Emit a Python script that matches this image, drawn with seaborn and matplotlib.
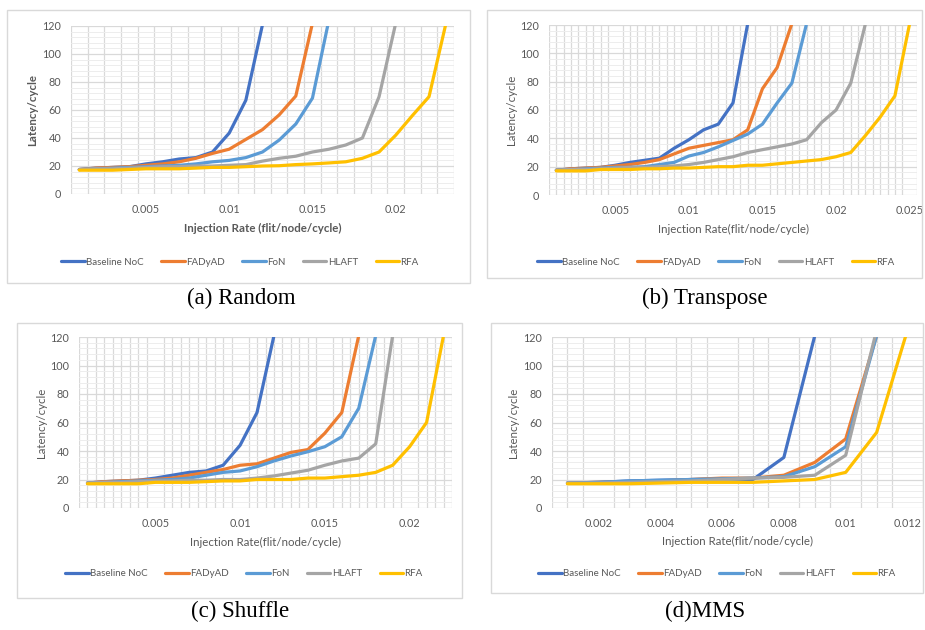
import numpy as np
import pandas as pd
import seaborn as sns
import matplotlib
matplotlib.use("Agg")
import matplotlib.pyplot as plt
from matplotlib.patches import Rectangle
from matplotlib.ticker import MultipleLocator, FixedLocator

sns.set_theme(style="white")
plt.rcParams['font.family'] = ['Lato', 'DejaVu Sans']

methods = ["Baseline NoC", "FADyAD", "FoN", "HLAFT", "RFA"]
colors = ["#4472C4", "#ED7D31", "#5B9BD5", "#A5A5A5", "#FFC000"]

# (a) Random
a_baseline = [17.5, 18.5, 19, 19.5, 21.5, 23, 25, 26, 30, 43.5, 67, 121]
a_fadyad = [17.5, 18.5, 19, 19.5, 20.5, 21.5, 23, 25.5, 29, 32, 39, 46, 56.5, 70, 122]
a_fon = [17.5, 18, 18.5, 19, 19.5, 20, 20.5, 21.5, 23, 24, 26, 30, 38.5, 50, 68.5, 125]
a_hlaft = [17.5, 18, 18, 18.5, 19, 19.5, 19.5, 20, 20, 20.5, 21, 23.5, 25.5, 27, 30, 32, 35, 40, 69.5, 122]
a_rfa = [17, 17, 17, 17.5, 18, 18, 18, 18.5, 19, 19, 19.5, 20, 20.2, 21, 21.5, 22.2, 23, 25.5, 30, 42, 56, 69.5, 121]

# (b) Transpose
b_baseline = [17.5, 18.5, 19, 19.5, 21, 23, 24.5, 26, 33, 39, 46, 50, 65, 121]
b_fadyad = [17.5, 18.5, 19, 19.5, 20.5, 21.5, 23, 25, 29, 33, 35, 37, 39, 46, 75, 90, 121]
b_fon = [17.5, 18, 18.5, 19, 19.5, 19.5, 20, 21.5, 23, 27.5, 30, 34, 38.5, 43, 50, 65, 79, 121]
b_hlaft = [17.5, 18, 18, 18.5, 19, 19.5, 19.5, 20, 20.5, 21.5, 23, 25, 27, 30, 32, 34, 36, 39, 51, 60, 79, 121]
b_rfa = [17, 17, 17, 18, 18, 18, 18.5, 18.5, 19, 19, 19.5, 20, 20, 21, 21, 22, 23, 24, 25, 27, 30, 42, 55, 70, 121]

# (c) Shuffle
c_baseline = [17.5, 18.5, 19, 19.5, 21, 23, 25, 26, 30, 44, 67, 121]
c_fadyad = [17.5, 18.5, 19, 19.5, 20, 21, 23, 25, 27, 30, 31, 35, 39, 41, 52.5, 67, 121]
c_fon = [17.5, 18, 18.5, 19, 19.5, 20, 21, 23, 25, 26, 29, 33, 36.5, 39.5, 43, 50, 70, 121]
c_hlaft = [17.5, 18, 18, 18.5, 19, 19, 19.5, 19.5, 20, 20, 21, 22.5, 24.5, 26.5, 30, 33, 35, 45, 121]
c_rfa = [17, 17, 17, 17, 18, 18, 18, 18.5, 19, 19, 20, 20, 20, 21, 21, 22, 23, 25, 30, 43, 60, 121]

# (d) MMS
d_baseline = [17.5, 18, 19, 19.5, 20, 20.5, 20, 35.5, 121]
d_fadyad = [17.5, 18, 18.5, 19, 20, 21, 21, 23, 32, 48.5, 121]
d_fon = [17.5, 18, 19, 19.5, 20, 20.5, 21, 22, 29, 43, 121]
d_hlaft = [17.5, 17.5, 18, 18.5, 19, 20, 21, 21.5, 23, 37, 125]
d_rfa = [17, 17, 17, 17.5, 18, 18, 18, 19, 20, 25, 53, 125]

a_ticks = ["0.005", "0.01", "0.015", "0.02"]
b_ticks = ["0.005", "0.01", "0.015", "0.02", "0.025"]
c_ticks = ["0.005", "0.01", "0.015", "0.02"]
d_ticks = ["0.002", "0.004", "0.006", "0.008", "0.01", "0.012"]
y_ticks = [0, 20, 40, 60, 80, 100, 120]

W, H = 925, 630
fig = plt.figure(figsize=(W / 100, H / 100), dpi=100)
fig.patch.set_facecolor("white")


def fx(px):
    return px / W


def fy(py):
    return 1 - py / H


def box(x0, y0, x1, y1):
    fig.patches.append(Rectangle((fx(x0), fy(y1)), fx(x1 - x0), (y1 - y0) / H,
                                 transform=fig.transFigure, fill=False,
                                 edgecolor="#D9D9D9", lw=1.0, zorder=0))


panels = [
    dict(series=[a_baseline, a_fadyad, a_fon, a_hlaft, a_rfa], n=23, ticks=a_ticks,
         area=(71, 26, 454, 194), box=(7, 10, 470, 283), bold=True, half=False,
         xlabel="Injection Rate (flit/node/cycle)", leg=(240, 262),
         cap="(a) Random", capxy=(241, 298), ylab_x=33, xlab_y=228),
    dict(series=[b_baseline, b_fadyad, b_fon, b_hlaft, b_rfa], n=25, ticks=b_ticks,
         area=(549, 25, 917, 195), box=(487, 10, 922, 278), bold=False, half=True,
         xlabel="Injection Rate(flit/node/cycle)", leg=(716, 262),
         cap="(b) Transpose", capxy=(705, 298), ylab_x=512, xlab_y=229),
    dict(series=[c_baseline, c_fadyad, c_fon, c_hlaft, c_rfa], n=22, ticks=c_ticks,
         area=(79, 337, 452, 508), box=(17, 323, 462, 598), bold=False, half=True,
         xlabel="Injection Rate(flit/node/cycle)", leg=(244, 574),
         cap="(c) Shuffle", capxy=(240, 611), ylab_x=42, xlab_y=542),
    dict(series=[d_baseline, d_fadyad, d_fon, d_hlaft, d_rfa], n=12, ticks=d_ticks,
         area=(552, 337, 923, 508), box=(491, 323, 923, 593), bold=False, half=True,
         xlabel="Injection Rate(flit/node/cycle)", leg=(717, 574),
         cap="(d)MMS", capxy=(705, 611), ylab_x=513, xlab_y=541),
]

for p in panels:
    box(*p["box"])
    x0, y0, x1, y1 = p["area"]
    ax = fig.add_axes([fx(x0), fy(y1), fx(x1 - x0), (y1 - y0) / H])
    rows = []
    for m, vals in zip(methods, p["series"]):
        for i, v in enumerate(vals):
            rows.append({"rate": (i + 1) * 0.001, "latency": v, "method": m})
    df = pd.DataFrame(rows)
    sns.lineplot(data=df, x="rate", y="latency", hue="method", hue_order=methods,
                 palette=colors, ax=ax, lw=2.3, legend=False, sort=True,
                 estimator=None)
    n = p["n"]
    ax.set_xlim(0.0005, n * 0.001 + 0.0005)
    ax.set_ylim(0, 120)
    tick_pos = [float(t) for t in p["ticks"]]
    ax.xaxis.set_major_locator(FixedLocator(tick_pos))
    ax.set_xticklabels(p["ticks"])
    step = 0.0005 if p["half"] else 0.001
    ax.xaxis.set_minor_locator(FixedLocator(
        [0.0005 + k * step for k in range(int(round(n * 0.001 / step)) + 1)]))
    ax.yaxis.set_major_locator(FixedLocator(y_ticks))
    ax.yaxis.set_minor_locator(MultipleLocator(4))
    ax.grid(False)
    ax.grid(which="minor", axis="x", color="#D9D9D9", lw=0.9, zorder=0)
    ax.grid(which="major", axis="y", color="#D9D9D9", lw=0.9, zorder=0)
    ax.grid(which="minor", axis="y", color="#EDEDED", lw=0.7, zorder=0)
    ax.set_axisbelow(True)
    for s in ax.spines.values():
        s.set_visible(False)
    ax.tick_params(which="both", length=0, labelsize=7.8, colors="#595959", pad=7)
    ax.set_facecolor("white")
    ax.set_xlabel("")
    ax.set_ylabel("")
    weight = "bold" if p["bold"] else "normal"
    fig.text(fx(p["ylab_x"]), fy((y0 + y1) / 2), "Latency/cycle", rotation=90,
             ha="center", va="center", fontsize=8.3, color="#595959", fontweight=weight)
    fig.text(fx((x0 + x1) / 2), fy(p["xlab_y"]), p["xlabel"], ha="center", va="center",
             fontsize=8.3, color="#595959", fontweight=weight)
    handles = [plt.Line2D([0], [0], color=c, lw=2.3) for c in colors]
    leg = ax.legend(handles, methods, loc="center", ncol=5,
                    bbox_to_anchor=(fx(p["leg"][0]), fy(p["leg"][1])),
                    bbox_transform=fig.transFigure, frameon=False, fontsize=7,
                    handlelength=2.4, handletextpad=0.15, columnspacing=1.8,
                    borderaxespad=0, borderpad=0)
    for t in leg.get_texts():
        t.set_color("#595959")
    fig.text(fx(p["capxy"][0]), fy(p["capxy"][1]), p["cap"], ha="center", va="center",
             fontsize=16.5, family=["Liberation Serif", "DejaVu Serif"], color="black")

fig.savefig("out.png", dpi=100, facecolor="white")
